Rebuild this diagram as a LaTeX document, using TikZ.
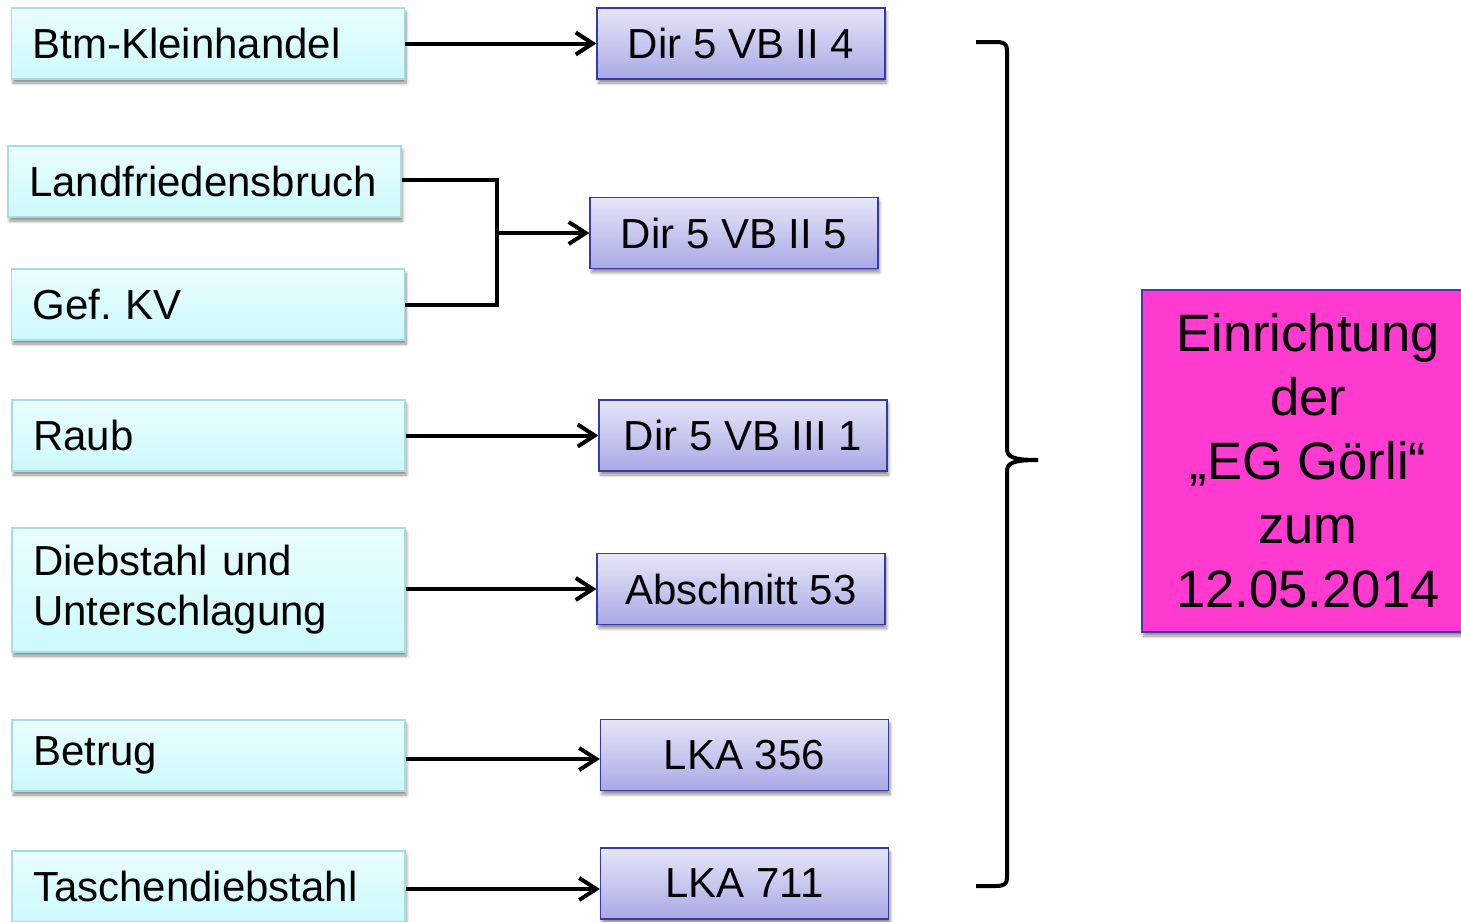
\documentclass[tikz,border=0pt]{standalone}
\usepackage{fontspec}
\setmainfont{Liberation Sans}
\usetikzlibrary{arrows.meta,shadows.blur}
\definecolor{lefttop}{HTML}{EAFDFE}
\definecolor{leftbot}{HTML}{CBFAFC}
\definecolor{leftbd}{HTML}{A8DCE0}
\definecolor{midtop}{HTML}{E6E6F8}
\definecolor{midbot}{HTML}{A9A9E6}
\definecolor{midbd}{HTML}{3A3AA6}
\definecolor{magfill}{HTML}{FF3ACE}
\definecolor{magbd}{HTML}{4A3AA8}
\tikzset{
  shad/.style={blur shadow={shadow xshift=1.5pt, shadow yshift=-4pt, shadow blur radius=3pt, shadow blur steps=6, shadow opacity=45}},
  leftbox/.style={shad, draw=leftbd, line width=1.2pt, top color=lefttop, bottom color=leftbot,
    minimum height=71pt, inner xsep=21pt, inner ysep=0pt, text width=351pt, align=left,
    font=\fontsize{42}{50}\selectfont},
  midbox/.style={shad, draw=midbd, line width=1.2pt, top color=midtop, bottom color=midbot,
    minimum height=71pt, minimum width=288pt, inner sep=0pt, align=center,
    font=\fontsize{42}{50}\selectfont},
  conn/.style={line width=4pt, -{Straight Barb[length=17pt,width=22pt,line width=4pt]}},
  plain/.style={line width=4pt},
}
\begin{document}
\begin{tikzpicture}[x=1pt,y=-1pt]
\useasboundingbox (0,0) rectangle (1461,921);
% left boxes
\node[leftbox] (l1) at (208,43.5) {Btm-Kleinhandel};
\node[leftbox] (l2) at (204.5,181.5) {Landfriedensbruch};
\node[leftbox] (l3) at (208,304.5) {Gef.\ KV};
\node[leftbox] (l4) at (208.5,435.5) {Raub};
\node[leftbox, minimum height=124pt] (l5) at (208.5,590) {Diebstahl und\\Unterschlagung};
\node[leftbox] (l6) at (208.5,755.5) {Betrug};
\node[leftbox] (l7) at (208.5,886.5) {Taschendiebstahl};
% middle boxes
\node[midbox] (m1) at (741,43.5) {Dir 5 VB II 4};
\node[midbox] (m2) at (734,233) {Dir 5 VB II 5};
\node[midbox] (m3) at (743,435.5) {Dir 5 VB III 1};
\node[midbox] (m4) at (741,589) {Abschnitt 53};
\node[midbox] (m5) at (744.5,755) {LKA 356};
\node[midbox] (m6) at (744.5,883.5) {LKA 711};
% result box
\node[shad, draw=magbd, line width=1.2pt, fill=magfill, minimum width=332pt, minimum height=342pt,
  inner sep=0pt, align=center, font=\fontsize{52.6}{64}\selectfont] (res) at (1308,461)
  {Einrichtung\\der\\„EG Görli“\\zum\\12.05.2014};
% connectors
\draw[conn] (l1.east) -- (l1.east -| m1.west);
\coordinate (jn) at (497,233);
\draw[plain] (l2.east |- 0,180) -| (jn);
\draw[plain] (l3.east) -| (jn);
\draw[conn] (jn) -- (m2.west);
\draw[conn] (l4.east) -- (l4.east -| m3.west);
\draw[conn] (l5.east |- 0,589) -- (m4.west);
\draw[conn] (l6.east |- 0,759) -- (m5.west |- 0,759);
\draw[conn] (l7.east |- 0,889) -- (m6.west |- 0,889);
% brace
\coordinate (bt) at (976,42);
\coordinate (bb) at (976,886);
\coordinate (btip) at (1038,460);
\draw[line width=4pt, line cap=butt, line join=round]
  (bt) -- (996,42) .. controls (1004,42) and (1007,44) .. (1007,50)
  -- (1007,448) .. controls (1007,456) and (1010,460) .. (btip);
\draw[line width=4pt, line cap=butt, line join=round]
  (bb) -- (996,886) .. controls (1004,886) and (1007,884) .. (1007,878)
  -- (1007,472) .. controls (1007,464) and (1010,460) .. (btip);
\end{tikzpicture}
\end{document}
